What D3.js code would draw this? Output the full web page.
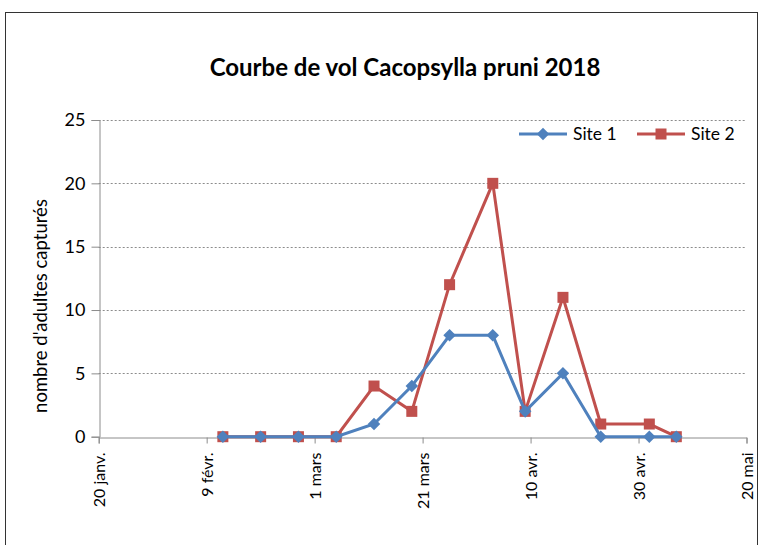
<!DOCTYPE html>
<html>
<head>
<meta charset="utf-8">
<script src="https://cdn.jsdelivr.net/npm/d3@7"></script>
<style>
  body { margin: 0; background: #fff; }
  svg { display: block; }
</style>
</head>
<body>
<div id="chart"></div>
<script>
// dates des relevés et captures par site
var dates = ['2018-02-12', '2018-02-19', '2018-02-26', '2018-03-05', '2018-03-12', '2018-03-19', '2018-03-26',
  '2018-04-03', '2018-04-09', '2018-04-16', '2018-04-23', '2018-05-02', '2018-05-07']
var site1 = [0, 0, 0, 0, 1, 4, 8, 8, 2, 5, 0, 0, 0]
var site2 = [0, 0, 0, 0, 4, 2, 12, 20, 2, 11, 1, 1, 0]
var seriesNames = ['Site 1', 'Site 2']
var tickDates = ['2018-01-20', '2018-02-09', '2018-03-01', '2018-03-21', '2018-04-10', '2018-04-30', '2018-05-20']
var tickLabels = ['20 janv.', '9 févr.', '1 mars', '21 mars', '10 avr.', '30 avr.', '20 mai']
var yTicks = [0, 5, 10, 15, 20, 25]

var width = 764
var height = 545
var parse = d3.utcParse('%Y-%m-%d')
var font = 'Lato, sans-serif'

var svg = d3.select('#chart').append('svg')
  .attr('width', width)
  .attr('height', height)

// cadre
svg.append('rect')
  .attr('x', 5.5).attr('y', 12.5)
  .attr('width', 752).attr('height', 540)
  .attr('fill', 'none')
  .attr('stroke', '#333')
  .attr('stroke-width', 1)

var x = d3.scaleUtc()
  .domain([parse(tickDates[0]), parse(tickDates[tickDates.length - 1])])
  .range([98.7, 746.5])
var y = d3.scaleLinear().domain([0, 25]).range([436.7, 120])

// titre
svg.append('text')
  .attr('x', 405).attr('y', 76)
  .attr('text-anchor', 'middle')
  .style('font-family', font)
  .style('font-weight', 'bold')
  .style('font-size', '24px')
  .text('Courbe de vol Cacopsylla pruni 2018')

// grille
svg.append('g').selectAll('line')
  .data(yTicks.filter(function (d) { return d > 0 }))
  .enter().append('line')
  .attr('x1', x.range()[0]).attr('x2', x.range()[1])
  .attr('y1', function (d) { return Math.round(y(d)) + 0.5 })
  .attr('y2', function (d) { return Math.round(y(d)) + 0.5 })
  .attr('stroke', '#8c8c8c')
  .attr('stroke-dasharray', '2,2')

// axe Y
var yaxis = d3.axisLeft(y).tickValues(yTicks).tickSize(8).tickPadding(6)
var gy = svg.append('g')
  .attr('transform', 'translate(' + (Math.round(x.range()[0]) + 0.5) + ',0)')
  .call(yaxis)
gy.select('.domain').attr('stroke', '#8c8c8c')
gy.selectAll('.tick line').attr('stroke', '#8c8c8c')
gy.selectAll('.tick text')
  .style('font-family', font)
  .style('font-size', '18px')
  .attr('fill', '#000')

// axe X
var xaxis = d3.axisBottom(x)
  .tickValues(tickDates.map(parse))
  .tickSize(6)
  .tickFormat(function (d, i) { return tickLabels[i] })
var gx = svg.append('g')
  .attr('transform', 'translate(0,' + (Math.round(y(0)) + 0.5) + ')')
  .call(xaxis)
gx.select('.domain').attr('stroke', '#8c8c8c')
gx.selectAll('.tick line').attr('stroke', '#8c8c8c')
gx.selectAll('.tick text')
  .attr('transform', 'rotate(-90)')
  .attr('text-anchor', 'end')
  .attr('x', -15)
  .attr('y', 0)
  .attr('dy', '0.35em')
  .style('font-family', font)
  .style('font-size', '16px')
  .attr('fill', '#000')

// titre axe Y
svg.append('text')
  .attr('transform', 'translate(47,306) rotate(-90)')
  .attr('text-anchor', 'middle')
  .style('font-family', font)
  .style('font-size', '18.5px')
  .text("nombre d'adultes capturés")

var colors = ['#4f81bd', '#c0504d']
var points1 = dates.map(function (d, i) { return { date: parse(d), value: site1[i] } })
var points2 = dates.map(function (d, i) { return { date: parse(d), value: site2[i] } })

var line = d3.line()
  .x(function (d) { return x(d.date) })
  .y(function (d) { return y(d.value) })

// site 2 (dessous)
svg.append('path')
  .datum(points2)
  .attr('d', line)
  .attr('fill', 'none')
  .attr('stroke', colors[1])
  .attr('stroke-width', 3)
svg.append('g').selectAll('rect')
  .data(points2)
  .enter().append('rect')
  .attr('x', function (d) { return x(d.date) - 5.5 })
  .attr('y', function (d) { return y(d.value) - 5.5 })
  .attr('width', 11).attr('height', 11)
  .attr('fill', colors[1])

// site 1 (dessus)
var diamond = d3.symbol().type(d3.symbolDiamond2).size(100)
svg.append('path')
  .datum(points1)
  .attr('d', line)
  .attr('fill', 'none')
  .attr('stroke', colors[0])
  .attr('stroke-width', 3)
svg.append('g').selectAll('path')
  .data(points1)
  .enter().append('path')
  .attr('d', diamond)
  .attr('transform', function (d) { return 'translate(' + x(d.date) + ',' + y(d.value) + ')' })
  .attr('fill', colors[0])

// légende
var legendX = [519, 637]
var legend = svg.append('g')
seriesNames.forEach(function (name, i) {
  var lx = legendX[i]
  legend.append('line')
    .attr('x1', lx).attr('x2', lx + 48)
    .attr('y1', 134).attr('y2', 134)
    .attr('stroke', colors[i])
    .attr('stroke-width', 3)
  if (i === 0) {
    legend.append('path')
      .attr('d', diamond)
      .attr('transform', 'translate(' + (lx + 24) + ',134)')
      .attr('fill', colors[i])
  } else {
    legend.append('rect')
      .attr('x', lx + 18.5).attr('y', 128.5)
      .attr('width', 11).attr('height', 11)
      .attr('fill', colors[i])
  }
  legend.append('text')
    .attr('x', lx + 54).attr('y', 140)
    .style('font-family', font)
    .style('font-size', '17.5px')
    .text(name)
})
</script>
</body>
</html>
